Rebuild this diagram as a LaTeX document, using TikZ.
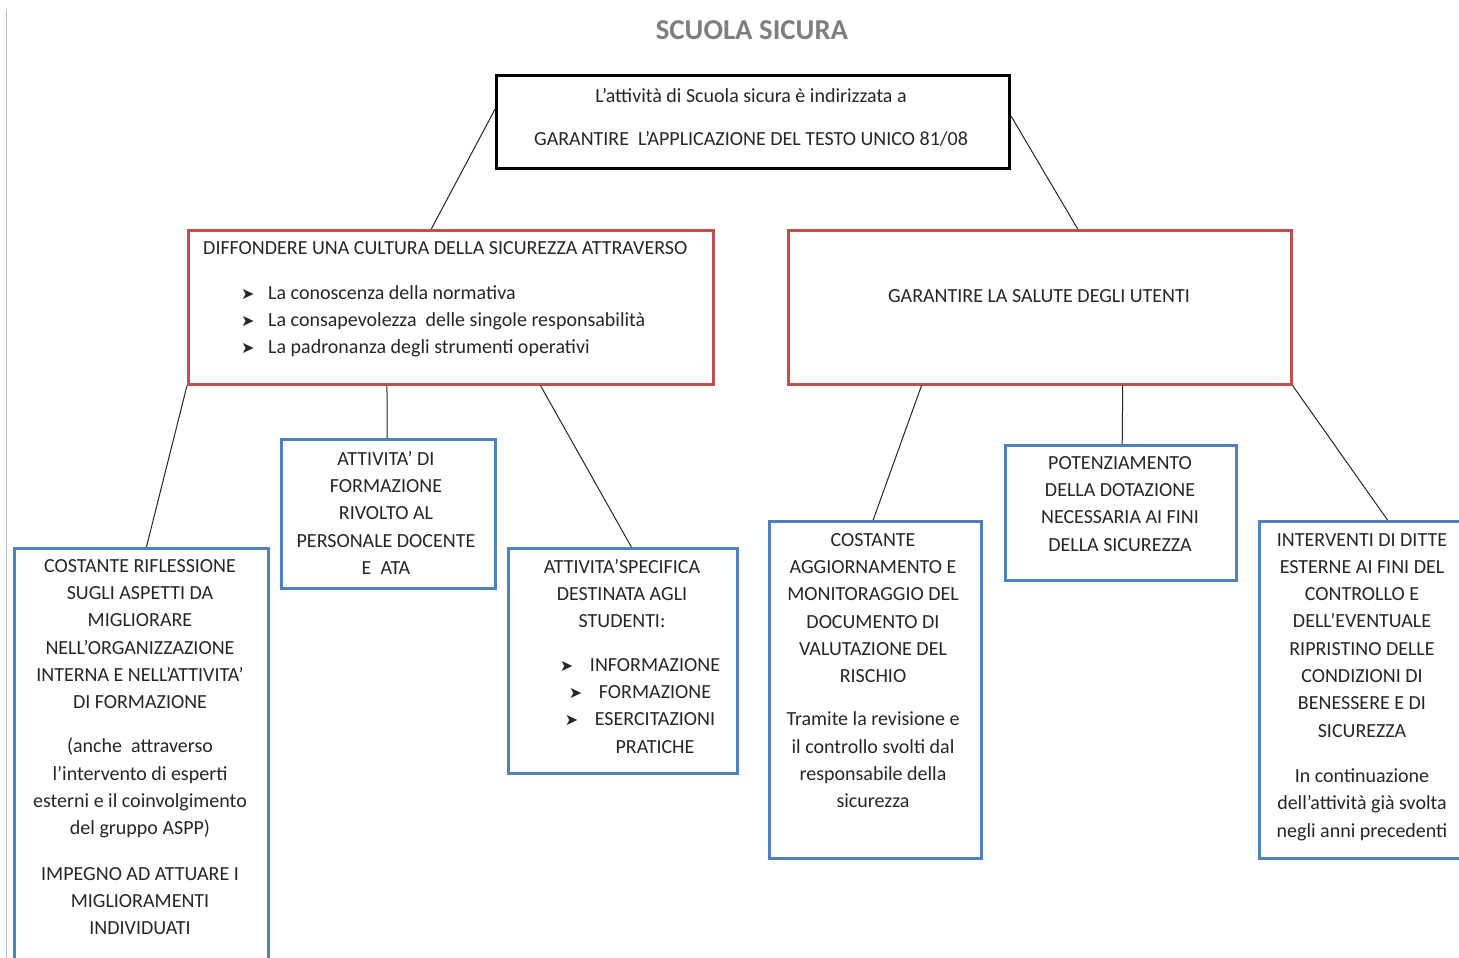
\documentclass[tikz,border=0pt]{standalone}
\usepackage{fontspec}
\setmainfont{Carlito}
\newfontfamily\dejavu{DejaVu Sans}
\usetikzlibrary{calc}
\definecolor{boxred}{HTML}{C0504D}
\definecolor{boxblue}{HTML}{4F81BD}
\definecolor{titlegray}{HTML}{7F7F7F}
\newcommand{\arr}{{\dejavu\fontsize{16}{16}\selectfont ➤}}
\tikzset{
  boxbase/.style={draw, rectangle, inner sep=0pt, anchor=north west},
  topbox/.style={boxbase, line width=3.2pt, draw=black},
  redbox/.style={boxbase, line width=2.6pt, draw=boxred},
  bluebox/.style={boxbase, line width=2.6pt, draw=boxblue},
  txt/.style={inner sep=0pt, align=center, font=\fontsize{20}{27.3}\selectfont, text=black!85},
  conn/.style={line width=1pt, draw=black!85}
}
\begin{document}
\begin{tikzpicture}[x=1pt,y=-1pt]
\useasboundingbox (0,0) rectangle (1459,958);
\clip (0,0) rectangle (1459,958);
\fill[white] (0,0) rectangle (1459,958);
\draw[black!25, line width=1pt] (6,10) -- (6,958);
% title
\node[inner sep=0pt, font=\bfseries\fontsize{28.8}{28.8}\selectfont, text=titlegray] (title) at (752,30) {SCUOLA SICURA};
% boxes
\node[topbox, minimum width=513, minimum height=93] (top) at (495,74) {};
\node[redbox, minimum width=525, minimum height=154] (rl) at (187,229) {};
\node[redbox, minimum width=503, minimum height=154] (rr) at (787,229) {};
\node[bluebox, minimum width=254, minimum height=440] (b1) at (13,547) {};
\node[bluebox, minimum width=214, minimum height=149] (b2) at (280,438) {};
\node[bluebox, minimum width=229, minimum height=225] (b3) at (507,547) {};
\node[bluebox, minimum width=212, minimum height=337] (b4) at (768,520) {};
\node[bluebox, minimum width=231, minimum height=135] (b5) at (1004,444) {};
\node[bluebox, minimum width=208, minimum height=337] (b6) at (1258,520) {};
% texts
\node[txt, anchor=north] (ttop) at (751,88) {L’attività di Scuola sicura è indirizzata a\\[16pt]GARANTIRE\ \ L’APPLICAZIONE DEL TESTO UNICO 81/08};
\node[txt, anchor=north west, align=left] (trl) at (203,241) {DIFFONDERE UNA CULTURA DELLA SICUREZZA ATTRAVERSO\\[18pt]
\hspace*{38pt}\makebox[27pt][l]{\arr}La conoscenza della normativa\\[-0.5pt]
\hspace*{38pt}\makebox[27pt][l]{\arr}La consapevolezza\ \ delle singole responsabilità\\[-0.5pt]
\hspace*{38pt}\makebox[27pt][l]{\arr}La padronanza degli strumenti operativi};
\node[txt] (trr) at (1039,296) {GARANTIRE LA SALUTE DEGLI UTENTI};
\node[txt, anchor=north] (tb1) at (140,559) {COSTANTE RIFLESSIONE\\SUGLI ASPETTI DA\\MIGLIORARE\\NELL’ORGANIZZAZIONE\\INTERNA E NELL’ATTIVITA’\\DI FORMAZIONE\\[17pt]
(anche\ \ attraverso\\l’intervento di esperti\\esterni e il coinvolgimento\\del gruppo ASPP)\\[18pt]
IMPEGNO AD ATTUARE I\\MIGLIORAMENTI\\INDIVIDUATI};
\node[txt, anchor=north] (tb2) at (386,451) {ATTIVITA’ DI\\FORMAZIONE\\RIVOLTO AL\\PERSONALE DOCENTE\\E\ \ ATA};
\node[txt, anchor=north] (tb3) at (622,559) {ATTIVITA’SPECIFICA\\DESTINATA AGLI\\STUDENTI:};
\node[txt, anchor=north] (tb3b) at (640,658) {\makebox[30pt][l]{\arr}INFORMAZIONE\\\makebox[30pt][l]{\arr}FORMAZIONE\\\makebox[30pt][l]{\arr}ESERCITAZIONI\\\hspace*{30pt}PRATICHE};
\node[txt, anchor=north] (tb4) at (873,533) {COSTANTE\\AGGIORNAMENTO E\\MONITORAGGIO DEL\\DOCUMENTO DI\\VALUTAZIONE DEL\\RISCHIO\\[16pt]
Tramite la revisione e\\il controllo svolti dal\\responsabile della\\sicurezza};
\node[txt, anchor=north] (tb5) at (1120,456) {POTENZIAMENTO\\DELLA DOTAZIONE\\NECESSARIA AI FINI\\DELLA SICUREZZA};
\node[txt, anchor=north] (tb6) at (1362,533) {INTERVENTI DI DITTE\\ESTERNE AI FINI DEL\\CONTROLLO E\\DELL’EVENTUALE\\RIPRISTINO DELLE\\CONDIZIONI DI\\BENESSERE E DI\\SICUREZZA\\[18pt]
In continuazione\\dell’attività già svolta\\negli anni precedenti};
% connectors
\draw[conn] ($(top.north west)!0.366!(top.south west)$) -- ($(rl.north west)!0.463!(rl.north east)$);
\draw[conn] ($(top.north east)!0.44!(top.south east)$) -- ($(rr.north west)!0.575!(rr.north east)$);
\draw[conn] (rl.south west) -- ($(b1.north west)!0.52!(b1.north east)$);
\draw[conn] ($(rl.south west)!0.379!(rl.south east)$) -- ($(b2.north west)!0.495!(b2.north east)$);
\draw[conn] ($(rl.south west)!0.670!(rl.south east)$) -- ($(b3.north west)!0.537!(b3.north east)$);
\draw[conn] ($(rr.south west)!0.266!(rr.south east)$) -- ($(b4.north west)!0.49!(b4.north east)$);
\draw[conn] ($(rr.south west)!0.664!(rr.south east)$) -- ($(b5.north west)!0.506!(b5.north east)$);
\draw[conn] (rr.south east) -- ($(b6.north west)!0.615!(b6.north east)$);
\end{tikzpicture}
\end{document}
